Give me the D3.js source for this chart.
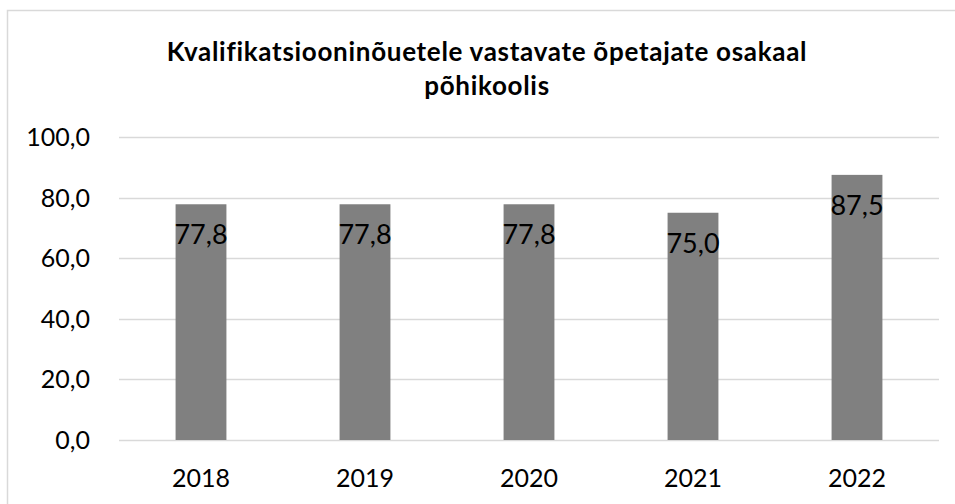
<!DOCTYPE html>
<html><head><meta charset="utf-8">
<script src="https://cdn.jsdelivr.net/npm/d3@7"></script>
<style>body{margin:0;background:#fff}svg{display:block}</style>
</head><body>
<script>
const categories = ["2018","2019","2020","2021","2022"];
const values = [77.8, 77.8, 77.8, 75.0, 87.5];
const yTicks = [0, 20, 40, 60, 80, 100];
const titleLines = ["Kvalifikatsiooninõuetele vastavate õpetajate osakaal", "põhikoolis"];

(function () {
const W = 955, H = 504;
const font = "Lato, 'Open Sans', sans-serif";
const svg = d3.select("body").append("svg").attr("width", W).attr("height", H);

svg.append("rect").attr("x", 7.5).attr("y", 10.5).attr("width", 960).attr("height", 510)
  .attr("fill", "#fff").attr("stroke", "#d9d9d9").attr("stroke-width", 1.5);

const pLeft = 119, pRight = 939, pTop = 137, pBottom = 440;
const x = d3.scaleBand().domain(categories).range([pLeft, pRight]).paddingInner(0.69).paddingOuter(0.345);
const y = d3.scaleLinear().domain([0, 100]).range([pBottom, pTop]);

svg.append("g").selectAll("line").data(yTicks).join("line")
  .attr("x1", pLeft).attr("x2", pRight)
  .attr("y1", d => Math.round(y(d)) + 0.5).attr("y2", d => Math.round(y(d)) + 0.5)
  .attr("stroke", "#d9d9d9").attr("stroke-width", 1.5);

const fmt = v => d3.format(".1f")(v).replace(".", ",");

svg.append("g").selectAll("text").data(yTicks).join("text")
  .attr("x", 90).attr("y", d => y(d) + 9)
  .attr("text-anchor", "end").attr("font-family", font).attr("font-size", 25)
  .attr("fill", "#000").text(d => fmt(d));

svg.append("g").selectAll("rect").data(values).join("rect")
  .attr("x", (d, i) => x(categories[i])).attr("width", x.bandwidth())
  .attr("y", d => y(d)).attr("height", d => pBottom - y(d))
  .attr("fill", "#808080");

svg.append("g").selectAll("text").data(values).join("text")
  .attr("x", (d, i) => x(categories[i]) + x.bandwidth() / 2)
  .attr("y", d => y(d) + 40)
  .attr("text-anchor", "middle").attr("font-family", font).attr("font-size", 27)
  .attr("fill", "#000").text(d => fmt(d));

svg.append("g").selectAll("text").data(categories).join("text")
  .attr("x", d => x(d) + x.bandwidth() / 2).attr("y", 487)
  .attr("text-anchor", "middle").attr("font-family", font).attr("font-size", 25)
  .attr("fill", "#000").text(d => d);

svg.append("g").selectAll("text").data(titleLines).join("text")
  .attr("x", 487).attr("y", (d, i) => 61 + i * 34)
  .attr("text-anchor", "middle").attr("font-family", font).attr("font-weight", "bold")
  .attr("font-size", 26).attr("letter-spacing", 0.7).attr("fill", "#000").text(d => d);
})();
</script>
</body></html>
